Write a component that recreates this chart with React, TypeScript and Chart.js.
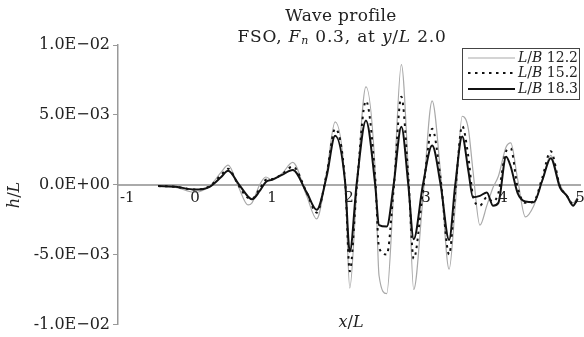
import { useEffect, useRef } from 'react';
import { Chart, registerables } from 'chart.js';

Chart.register(...registerables);

// Position along the hull, x/L
const xOverL = [
  -0.48, -0.25, 0.0, 0.19, 0.34, 0.43, 0.56, 0.69, 0.74, 0.84, 0.92, 1.0, 1.13, 1.27,
  1.45, 1.58, 1.71, 1.82, 1.95, 2.01, 2.1, 2.22, 2.34, 2.39, 2.49, 2.58, 2.68, 2.77,
  2.84, 2.96, 3.08, 3.19, 3.3, 3.38, 3.47, 3.55, 3.61, 3.7, 3.79, 3.87, 3.94, 4.04,
  4.1, 4.19, 4.29, 4.4, 4.51, 4.62, 4.74, 4.83, 4.91, 4.97,
];

// Wave elevation h/L in units of 1E-03, one list per L/B ratio
const hL_LB122 = [
  -0.1, -0.2, -0.55, -0.1, 0.9, 1.4, -0.1, -1.45, -1.3, 0.0, 0.55, 0.35, 0.8, 1.6,
  -0.8, -2.45, 0.9, 4.5, 0.1, -7.4, -0.5, 7.0, 1.0, -6.5, -7.8, -0.5, 8.6, 1.0,
  -7.5, -1.0, 6.0, 0.8, -6.05, -1.5, 4.9, 4.0, 1.0, -2.9, -1.5, -0.2, 0.6, 2.7,
  3.0, 0.4, -2.3, -1.5, 0.3, 2.1, 0.0, -0.8, -1.3, -0.9,
];
const hL_LB152 = [
  -0.1, -0.15, -0.35, -0.1, 0.7, 1.15, 0.0, -0.95, -1.0, -0.3, 0.35, 0.4, 0.75, 1.3,
  -0.55, -2.0, 0.8, 4.0, 0.2, -6.2, -0.2, 6.0, 0.5, -4.5, -5.0, -0.3, 6.3, 0.6,
  -5.3, -0.5, 4.0, 0.4, -5.0, -0.5, 4.2, 2.0, -0.8, -1.5, -0.9, -1.2, -0.6, 2.4,
  2.6, -0.2, -1.3, -1.2, 0.5, 2.4, -0.1, -0.8, -1.4, -1.1,
];
const hL_LB183 = [
  -0.1, -0.15, -0.35, -0.15, 0.55, 1.0, 0.1, -0.85, -1.05, -0.45, 0.2, 0.35, 0.7, 1.05,
  -0.55, -1.8, 0.6, 3.5, 0.15, -4.8, 0.1, 4.6, 0.0, -2.9, -3.0, 0.0, 4.15, 0.0,
  -3.9, 0.0, 2.8, 0.0, -3.95, 0.0, 3.45, 1.0, -0.9, -0.8, -0.55, -1.5, -1.3, 2.0,
  1.3, -0.6, -1.2, -1.25, 0.3, 1.9, -0.2, -0.8, -1.5, -1.0,
];

const seriesRatios = ['12.2', '15.2', '18.3'];
const yTickValues = [-10, -5, 0, 5, 10];
const xTickValues = [-1, 0, 1, 2, 3, 4, 5];

const SERIF = '"DejaVu Serif", serif';
const TEXT = '#222';

function formatSci(v: number): string {
  const val = v * 1e-3;
  if (val === 0) return '0.0E+00';
  const exp = Math.floor(Math.log10(Math.abs(val)) + 1e-9);
  const mant = val / Math.pow(10, exp);
  const sign = exp < 0 ? '\u2212' : '+';
  return `${mant.toFixed(1)}E${sign}${String(Math.abs(exp)).padStart(2, '0')}`;
}

type Run = { text: string; font: string; dy?: number };

function runsWidth(ctx: CanvasRenderingContext2D, runs: Run[]) {
  let w = 0;
  for (const r of runs) {
    ctx.font = r.font;
    w += ctx.measureText(r.text).width;
  }
  return w;
}

function drawRuns(
  ctx: CanvasRenderingContext2D,
  runs: Run[],
  x: number,
  y: number,
  align: 'center' | 'right' | 'left',
  spacing = 0
) {
  (ctx as any).letterSpacing = `${spacing}px`;
  const total = runsWidth(ctx, runs);
  let cx = align === 'center' ? x - total / 2 : align === 'right' ? x - total : x;
  ctx.textAlign = 'left';
  for (const r of runs) {
    ctx.font = r.font;
    ctx.fillText(r.text, cx, y + (r.dy || 0));
    cx += ctx.measureText(r.text).width;
  }
  (ctx as any).letterSpacing = '0px';
}

const roman = (s: number) => `${s}px ${SERIF}`;
const italic = (s: number) => `italic ${s}px ${SERIF}`;

const decorations = {
  id: 'waveDecorations',
  afterDraw(chart: any) {
    const { ctx, scales, chartArea } = chart;
    const xs = scales.x;
    const ys = scales.y;
    ctx.save();
    ctx.fillStyle = TEXT;
    ctx.textBaseline = 'middle';

    // title
    drawRuns(ctx, [{ text: 'Wave profile', font: roman(17) }], 341, 17, 'center', 0.3);
    drawRuns(
      ctx,
      [
        { text: 'FSO, ', font: roman(17) },
        { text: 'F', font: italic(17) },
        { text: 'n', font: italic(11), dy: 3 },
        { text: ' 0.3, at ', font: roman(17) },
        { text: 'y', font: italic(17) },
        { text: '/', font: roman(17) },
        { text: 'L', font: italic(17) },
        { text: ' 2.0', font: roman(17) },
      ],
      342,
      38,
      'center',
      0.8
    );

    // x tick labels sitting under the zero line
    const zeroY = ys.getPixelForValue(0);
    ctx.font = roman(15);
    for (const t of xTickValues) {
      const px = xs.getPixelForValue(t);
      const label = String(t);
      if (t === xs.min) {
        ctx.textAlign = 'left';
        ctx.fillText(label, px + 2, zeroY + 13);
      } else {
        ctx.textAlign = 'center';
        ctx.fillText(label, px, zeroY + 13);
      }
    }

    // axis titles
    drawRuns(
      ctx,
      [
        { text: 'x', font: italic(16) },
        { text: '/', font: roman(16) },
        { text: 'L', font: italic(16) },
      ],
      351,
      323,
      'center'
    );
    ctx.save();
    ctx.translate(15, 195);
    ctx.rotate(-Math.PI / 2);
    drawRuns(
      ctx,
      [
        { text: 'h', font: italic(16) },
        { text: '/', font: roman(16) },
        { text: 'L', font: italic(16) },
      ],
      0,
      0,
      'center'
    );
    ctx.restore();

    // legend
    const box = { left: 462, top: 48, right: 580, bottom: 100 };
    ctx.fillStyle = '#fff';
    ctx.fillRect(box.left, box.top, box.right - box.left, box.bottom - box.top);
    ctx.strokeStyle = '#444';
    ctx.lineWidth = 1;
    ctx.strokeRect(box.left + 0.5, box.top + 0.5, box.right - box.left - 1, box.bottom - box.top - 1);
    const rows = [58, 73, 89];
    chart.data.datasets.forEach((ds: any, i: number) => {
      const y = rows[i];
      ctx.save();
      ctx.strokeStyle = ds.borderColor;
      ctx.lineWidth = ds.borderWidth;
      ctx.setLineDash(ds.borderDash || []);
      ctx.beginPath();
      ctx.moveTo(468, y);
      ctx.lineTo(515, y);
      ctx.stroke();
      ctx.restore();
      ctx.fillStyle = TEXT;
      drawRuns(
        ctx,
        [
          { text: 'L', font: italic(14) },
          { text: '/', font: roman(14) },
          { text: 'B', font: italic(14) },
          { text: ' ' + seriesRatios[i], font: roman(14) },
        ],
        578,
        y,
        'right'
      );
    });

    ctx.restore();
  },
};

export default function App() {
  const canvasRef = useRef<HTMLCanvasElement | null>(null);

  useEffect(() => {
    const canvas = canvasRef.current;
    if (!canvas) return;
    const toPoints = (ys: number[]) => xOverL.map((x, i) => ({ x, y: ys[i] }));

    const chart = new Chart(canvas, {
      type: 'line',
      data: {
        datasets: [
          {
            label: 'L/B ' + seriesRatios[0],
            data: toPoints(hL_LB122),
            borderColor: '#a9a9a9',
            borderWidth: 1.2,
            pointRadius: 0,
            cubicInterpolationMode: 'monotone',
            order: 3,
          },
          {
            label: 'L/B ' + seriesRatios[1],
            data: toPoints(hL_LB152),
            borderColor: '#111',
            borderWidth: 2,
            borderDash: [2.5, 4.5],
            pointRadius: 0,
            cubicInterpolationMode: 'monotone',
            order: 2,
          },
          {
            label: 'L/B ' + seriesRatios[2],
            data: toPoints(hL_LB183),
            borderColor: '#111',
            borderWidth: 2,
            pointRadius: 0,
            cubicInterpolationMode: 'monotone',
            order: 1,
          },
        ],
      },
      options: {
        responsive: false,
        animation: false,
        devicePixelRatio: 1,
        layout: { padding: { top: 45, bottom: 8, left: 0, right: 4 } },
        plugins: {
          legend: { display: false },
          title: { display: false },
          tooltip: { enabled: false },
        },
        scales: {
          x: {
            type: 'linear',
            min: -1,
            max: 5,
            position: { y: 0 },
            grid: { display: false },
            border: { display: true, color: '#aaa', width: 2 },
            ticks: { display: false },
          },
          y: {
            type: 'linear',
            min: -10,
            max: 10,
            afterFit: (scale: any) => {
              scale.width = 118;
            },
            afterBuildTicks: (scale: any) => {
              scale.ticks = yTickValues.map((value) => ({ value }));
            },
            grid: { drawOnChartArea: false, drawTicks: true, tickLength: 5, color: '#999' },
            border: { display: true, color: '#999', width: 1.5 },
            ticks: {
              padding: 3,
              color: TEXT,
              font: { family: SERIF, size: 16 },
              callback: (v: any) => formatSci(Number(v)),
            },
          },
        },
      },
      plugins: [decorations],
    });

    return () => chart.destroy();
  }, []);

  return (
    <div style={{ position: 'absolute', left: 0, top: 0, width: 584, height: 337, background: '#fff' }}>
      <canvas ref={canvasRef} width={584} height={337} />
    </div>
  );
}
